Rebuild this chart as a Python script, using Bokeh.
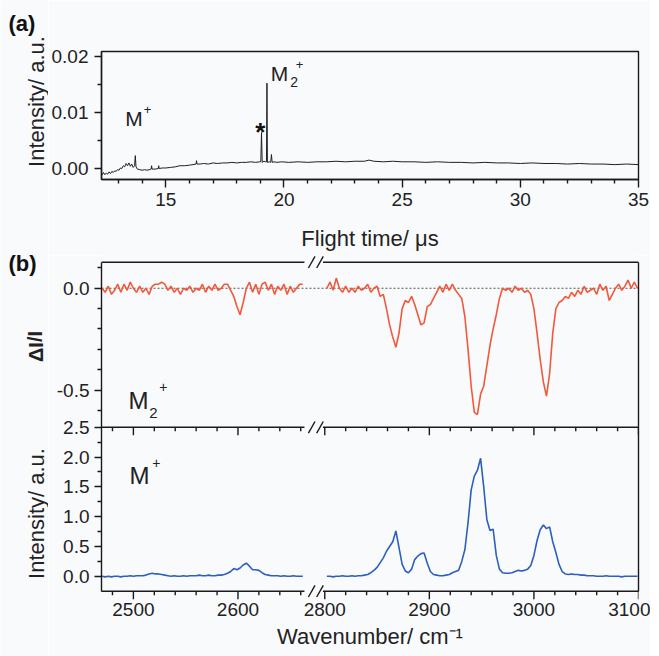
from bokeh.plotting import figure
from bokeh.models import Range1d, FixedTicker, CustomJSTickFormatter, Label, LinearAxis
from bokeh.layouts import column, row
from bokeh.embed import file_html
from bokeh.resources import INLINE

FONT = "Liberation Sans"
BG = "#f9fafc"
INK = "#1a1a1a"
TXT = "#222222"

# ---------------- data: (a) time-of-flight mass spectrum ----------------
TOF_TIME = [
    12.30, 12.36, 12.42, 12.48, 12.54, 12.60, 12.66, 12.72, 12.78, 12.84,
    12.90, 12.96, 13.02, 13.08, 13.14, 13.20, 13.26, 13.32, 13.38, 13.44,
    13.50, 13.56, 13.62, 13.68, 13.71, 13.74, 13.80, 13.90, 14.00, 14.10,
    14.20, 14.30, 14.38, 14.40, 14.42, 14.55, 14.68, 14.70, 14.72, 14.85,
    15.00, 15.20, 15.40, 15.60, 15.80, 16.00, 16.15, 16.28, 16.30, 16.32,
    16.45, 16.60, 16.80, 17.00, 17.20, 17.40, 17.60, 17.80, 18.00, 18.20,
    18.40, 18.60, 18.80, 18.98, 19.02, 19.05, 19.08, 19.15, 19.22, 19.26,
    19.28, 19.30, 19.38, 19.44, 19.47, 19.50, 19.58, 19.70, 19.90, 20.20,
    20.60, 21.00, 21.40, 21.80, 22.20, 22.60, 23.00, 23.40, 23.60, 23.80,
    24.20, 24.60, 25.00, 25.50, 26.00, 26.50, 27.00, 27.50, 28.00, 28.50,
    29.00, 29.50, 30.00, 30.50, 31.00, 31.50, 32.00, 32.50, 33.00, 33.50,
    34.00, 34.50, 35.00,
]
TOF_INTENSITY = [
    -0.0012, -0.0007, -0.0011, -0.0008, -0.0010, -0.0006, -0.0009, -0.0005, -0.0007, -0.0004,
    -0.0005, -0.0002, -0.0003, 0.0001, 0.0000, 0.0005, 0.0003, 0.0009, 0.0005, 0.0010,
    0.0004, 0.0008, 0.0002, 0.0005, 0.0023, 0.0003, -0.0001, -0.0002, -0.0003, -0.0002,
    -0.0003, -0.0002, -0.0001, 0.0005, -0.0001, -0.0001, 0.0000, 0.0005, 0.0000, 0.0001,
    0.0001, 0.0002, 0.0003, 0.0005, 0.0005, 0.0006, 0.0007, 0.0008, 0.0014, 0.0008,
    0.0008, 0.0009, 0.0008, 0.0010, 0.0009, 0.0010, 0.0010, 0.0011, 0.0010, 0.0011,
    0.0011, 0.0012, 0.0011, 0.0012, 0.0012, 0.0064, 0.0011, 0.0013, 0.0012, 0.0012,
    0.0152, 0.0011, 0.0012, 0.0011, 0.0025, 0.0011, 0.0012, 0.0011, 0.0012, 0.0011,
    0.0012, 0.0011, 0.0012, 0.0012, 0.0013, 0.0012, 0.0013, 0.0013, 0.0015, 0.0013,
    0.0012, 0.0013, 0.0012, 0.0012, 0.0011, 0.0012, 0.0011, 0.0011, 0.0010, 0.0011,
    0.0010, 0.0010, 0.0009, 0.0010, 0.0009, 0.0009, 0.0008, 0.0009, 0.0008, 0.0008,
    0.0007, 0.0008, 0.0007,
]
TOF_XTICKS = [15, 20, 25, 30, 35]
TOF_XMINOR = [13, 14, 16, 17, 18, 19, 21, 22, 23, 24, 26, 27, 28, 29, 31, 32, 33, 34]
TOF_YTICKS = [0.0, 0.01, 0.02]
TOF_YMINOR = [0.005, 0.015]

# ---------------- data: (b) IR spectra ----------------
WN_LEFT = list(range(2470, 2663, 3))      # 2470 ... 2662 cm-1
WN_RIGHT = list(range(2802, 3100, 3))     # 2802 ... 3099 cm-1

DIFF_LEFT = [
    0.00, -0.02, 0.01, -0.03, -0.01, 0.02, -0.02, 0.02, -0.01, 0.03,
    0.00, -0.02, 0.01, -0.02, 0.00, -0.03, 0.01, 0.02, 0.02, 0.03,
    0.02, -0.01, 0.01, -0.02, 0.00, -0.03, 0.00, -0.01, 0.01, -0.02,
    0.00, -0.01, 0.02, -0.02, 0.01, -0.01, 0.02, -0.01, 0.00, 0.02,
    0.02, -0.01, -0.04, -0.09, -0.13, -0.07, 0.00, 0.03, -0.02, 0.02,
    -0.03, 0.02, 0.03, -0.01, 0.02, -0.03, 0.01, -0.01, 0.02, -0.03,
    0.01, -0.02, 0.00, 0.02, 0.02,
]
DIFF_RIGHT = [
    0.00, 0.03, -0.01, 0.05, 0.00, -0.02, 0.01, -0.02, 0.00, -0.02,
    0.01, -0.01, 0.00, 0.02, -0.02, 0.00, 0.01, -0.04, -0.03, -0.10,
    -0.18, -0.24, -0.29, -0.22, -0.10, -0.06, -0.07, -0.04, -0.08, -0.13,
    -0.18, -0.17, -0.09, -0.08, -0.05, -0.02, 0.01, -0.02, 0.02, -0.01,
    0.02, -0.01, -0.03, -0.05, -0.14, -0.30, -0.48, -0.61, -0.62, -0.52,
    -0.48, -0.38, -0.28, -0.20, -0.13, -0.05, 0.00, -0.01, 0.00, -0.02,
    0.01, -0.01, 0.00, -0.02, -0.01, -0.03, -0.10, -0.22, -0.35, -0.46,
    -0.53, -0.42, -0.22, -0.10, -0.07, -0.06, -0.04, -0.05, -0.02, -0.04,
    -0.01, -0.03, 0.01, -0.02, -0.01, 0.00, -0.03, 0.02, -0.01, 0.01,
    -0.06, -0.03, 0.00, 0.02, -0.01, 0.01, 0.04, 0.00, 0.03, 0.00,
]
INT_LEFT = [
    0.00, -0.01, 0.00, -0.01, 0.00, 0.00, -0.01, 0.00, 0.00, 0.01,
    0.00, 0.01, 0.01, 0.01, 0.02, 0.04, 0.05, 0.04, 0.04, 0.03,
    0.02, 0.01, 0.00, 0.01, 0.00, 0.00, 0.01, 0.00, 0.01, 0.01,
    0.01, 0.02, 0.01, 0.01, 0.02, 0.01, 0.01, 0.02, 0.02, 0.03,
    0.05, 0.08, 0.13, 0.11, 0.14, 0.19, 0.22, 0.17, 0.11, 0.11,
    0.10, 0.06, 0.03, 0.02, 0.01, 0.01, 0.01, 0.00, 0.01, 0.00,
    0.00, 0.01, 0.00, 0.00, 0.00,
]
INT_RIGHT = [
    0.00, 0.00, -0.01, 0.00, 0.00, 0.01, 0.00, 0.00, 0.01, 0.00,
    0.01, 0.01, 0.02, 0.03, 0.06, 0.10, 0.15, 0.23, 0.31, 0.42,
    0.50, 0.58, 0.76, 0.48, 0.20, 0.09, 0.06, 0.12, 0.28, 0.34,
    0.38, 0.39, 0.22, 0.08, 0.03, 0.02, 0.01, 0.01, 0.02, 0.03,
    0.06, 0.08, 0.10, 0.25, 0.45, 0.90, 1.45, 1.68, 1.78, 1.98,
    1.50, 0.95, 0.77, 0.79, 0.35, 0.12, 0.06, 0.05, 0.05, 0.06,
    0.08, 0.10, 0.09, 0.10, 0.12, 0.18, 0.35, 0.60, 0.78, 0.86,
    0.80, 0.83, 0.58, 0.40, 0.20, 0.08, 0.04, 0.03, 0.04, 0.03,
    0.03, 0.02, 0.02, 0.01, 0.01, 0.01, 0.00, 0.00, 0.00, 0.01,
    0.00, 0.00, 0.00, 0.00, -0.01, 0.00, 0.00, 0.00, 0.00, 0.00,
]
WN_MAJOR_LEFT = [2500, 2600]
WN_MINOR_LEFT = [2480, 2520, 2540, 2560, 2580, 2620, 2640, 2660]
WN_MAJOR_RIGHT = [2800, 2900, 3000, 3100]
WN_MINOR_RIGHT = [2820, 2840, 2860, 2880, 2920, 2940, 2960, 2980,
                  3020, 3040, 3060, 3080]
INT_YTICKS = [0.0, 0.5, 1.0, 1.5, 2.0, 2.5]
INT_YMINOR = [0.25, 0.75, 1.25, 1.75, 2.25]
DIFF_YTICKS = [0.0, -0.5]
DIFF_YMINOR = [0.1, -0.1, -0.2, -0.3, -0.4, -0.6]

# ---------------- geometry of the broken axis / stacked panels ----------
BREAK_SHIFT = 117                 # offset of the right-hand wavenumber segment
X_LO, X_HI = 2469.5, 3100 - BREAK_SHIFT
INT_LO, BOUNDARY, MAIN_HI = -0.25, 2.5, 5.27
DIFF_VIS_LO, DIFF_HI = -0.683, 0.128
SLOPE = (DIFF_HI - DIFF_VIS_LO) / (MAIN_HI - BOUNDARY)
DIFF_LO = DIFF_VIS_LO - (BOUNDARY - INT_LO) * SLOPE
PXX = 539.0 / (X_HI - X_LO)       # px per cm-1 in panel (b)
PXY = 329.0 / (MAIN_HI - INT_LO)  # px per unit (main y) in panel (b)
PAD_T, PAD_B = 6.7, 10.3          # frame margin above/below the drawn box (px)
GAP_L = X_LO + 203 / PXX
GAP_R = X_LO + 223 / PXX
SLASH_X = [X_LO + 211 / PXX, X_LO + 219.3 / PXX]
SLASH_DX, SLASH_DY = 3.3 / PXX, 5.8 / PXY
MAJ_LEN, MIN_LEN = 8 / PXY, 4 / PXY


def to_main(v):
    return BOUNDARY + (v - DIFF_VIS_LO) / SLOPE


def style_axis(ax):
    ax.axis_line_width = 1.4
    ax.axis_line_color = INK
    ax.major_tick_line_width = 1.4
    ax.minor_tick_line_width = 1.4
    ax.major_tick_line_color = INK
    ax.minor_tick_line_color = INK
    ax.major_tick_in = 0
    ax.minor_tick_in = 0
    ax.major_tick_out = 8
    ax.minor_tick_out = 4
    ax.major_label_text_font = FONT
    ax.major_label_text_font_size = "19px"
    ax.major_label_text_color = TXT
    ax.axis_label_text_font = FONT
    ax.axis_label_text_font_size = "22px"
    ax.axis_label_text_font_style = "normal"
    ax.axis_label_text_color = TXT


def base_fig(w, h, xr, yr, left, right, top, bottom):
    p = figure(width=w, height=h, x_range=xr, y_range=yr,
               output_backend="svg", toolbar_location=None,
               min_border_left=left, min_border_right=right,
               min_border_top=top, min_border_bottom=bottom)
    p.background_fill_color = BG
    p.border_fill_color = BG
    p.xgrid.grid_line_color = None
    p.ygrid.grid_line_color = None
    return p


def txt(x, y, s, size, **kw):
    opts = dict(text_font=FONT, text_color=TXT, text_baseline="alphabetic")
    opts.update(kw)
    return Label(x=x, y=y, text=s, text_font_size=size, **opts)


HA, HB, WL = 255, 401, 48
H_ALL = HA + HB

# ============ left strip: panel letters and y-axis titles ============
lt = figure(width=WL, height=H_ALL, x_range=Range1d(0, WL), y_range=Range1d(0, H_ALL),
            output_backend="svg", toolbar_location=None,
            x_axis_location=None, y_axis_location=None, min_border=0)
lt.background_fill_color = BG
lt.border_fill_color = BG
lt.outline_line_color = None
lt.grid.visible = False
lt.add_layout(txt(8, H_ALL - 22.5, "(a)", "22px", text_font_style="bold",
                  text_baseline="middle", text_color="#111111"))
lt.add_layout(txt(35.6, H_ALL - 101, "Intensity/ a.u.", "22px", angle=1.5708,
                  text_align="center", text_baseline="middle"))
lt.add_layout(txt(8, H_ALL - 262.5, "(b)", "22px", text_font_style="bold",
                  text_baseline="middle", text_color="#111111"))
lt.add_layout(txt(35, H_ALL - 346, "\u0394I/I", "20px", text_font_style="bold",
                  angle=1.5708, text_align="center", text_baseline="middle"))
lt.add_layout(txt(36, H_ALL - 513, "Intensity/ a.u.", "22px", angle=1.5708,
                  text_align="center", text_baseline="middle"))

# ======================= panel (a) =======================
pa = base_fig(602, HA, Range1d(12.28, 35), Range1d(-0.00195, 0.02083), 51, 12, 51, 76)
pa.outline_line_color = INK
pa.outline_line_width = 1.4
pa.line(TOF_TIME, TOF_INTENSITY, line_color="#202020", line_width=1)
pa.xaxis.ticker = FixedTicker(ticks=TOF_XTICKS, minor_ticks=TOF_XMINOR)
pa.yaxis.ticker = FixedTicker(ticks=TOF_YTICKS, minor_ticks=TOF_YMINOR)
pa.yaxis.formatter = CustomJSTickFormatter(code="return tick.toFixed(2);")
for ax in pa.xaxis + pa.yaxis:
    style_axis(ax)
pa.yaxis.major_tick_out = 7
pa.yaxis.major_label_standoff = 6
pa.xaxis.major_label_standoff = 5
pa.xaxis.axis_label = "Flight time/ \u03bcs"
pa.xaxis.axis_label_standoff = 17

pa.add_layout(txt(13.29, 0.00893, "M", "21px"))
pa.add_layout(txt(14.07, 0.01053, "+", "13px"))
pa.add_layout(txt(19.00, 0.00652, "*", "26px", text_font_style="bold",
                  text_align="center", text_color="#111111"))
pa.add_layout(txt(19.44, 0.01693, "M", "21px"))
pa.add_layout(txt(20.27, 0.01533, "2", "14px"))
pa.add_layout(txt(20.50, 0.01860, "+", "13px"))

# ======================= panel (b) =======================
pb = base_fig(602, HB, Range1d(X_LO, X_HI),
              Range1d(INT_LO - PAD_B / PXY, MAIN_HI + PAD_T / PXY),
              51, 12, 0, 55)
pb.outline_line_color = None
pb.extra_y_ranges = {"diff": Range1d(DIFF_LO - PAD_B / PXY * SLOPE,
                                     DIFF_HI + PAD_T / PXY * SLOPE)}

u_right = [w - BREAK_SHIFT for w in WN_RIGHT]
RED = "#f2583a"
BLUE = "#2d5fbd"
pb.segment(x0=[X_LO], y0=[0], x1=[X_HI], y1=[0], y_range_name="diff",
           line_color="#555555", line_dash="2 2", line_width=1)
pb.line(WN_LEFT, DIFF_LEFT, y_range_name="diff", line_color=RED, line_width=1.6)
pb.line(u_right, DIFF_RIGHT, y_range_name="diff", line_color=RED, line_width=1.6)
pb.line(WN_LEFT, INT_LEFT, line_color=BLUE, line_width=1.6)
pb.line(u_right, INT_RIGHT, line_color=BLUE, line_width=1.6)

major_u = WN_MAJOR_LEFT + [w - BREAK_SHIFT for w in WN_MAJOR_RIGHT]
minor_u = WN_MINOR_LEFT + [w - BREAK_SHIFT for w in WN_MINOR_RIGHT]

# horizontal box lines, broken at the axis break
fx0, fy0, fx1, fy1 = [], [], [], []
for yb in (MAIN_HI, BOUNDARY, INT_LO):
    fx0 += [X_LO, GAP_R]; fx1 += [GAP_L, X_HI]; fy0 += [yb, yb]; fy1 += [yb, yb]
pb.segment(x0=fx0, y0=fy0, x1=fx1, y1=fy1, line_color=INK, line_width=1.4,
           line_cap="square")
# ticks on the bottom axis and on the boundary between the two spectra
tx0, ty0, ty1 = [], [], []
for yb in (INT_LO, BOUNDARY):
    for u in major_u:
        tx0.append(u); ty0.append(yb); ty1.append(yb - MAJ_LEN)
    for u in minor_u:
        tx0.append(u); ty0.append(yb); ty1.append(yb - MIN_LEN)
pb.segment(x0=tx0, y0=ty0, x1=tx0, y1=ty1, line_color=INK, line_width=1.4)
# "//" axis-break marks
sx0, sy0, sx1, sy1 = [], [], [], []
for yb in (MAIN_HI, BOUNDARY, INT_LO):
    for xc in SLASH_X:
        sx0.append(xc - SLASH_DX); sy0.append(yb - SLASH_DY)
        sx1.append(xc + SLASH_DX); sy1.append(yb + SLASH_DY)
pb.segment(x0=sx0, y0=sy0, x1=sx1, y1=sy1, line_color=INK, line_width=1.4)

pb.xaxis.ticker = FixedTicker(ticks=major_u, minor_ticks=[])
pb.xaxis.formatter = CustomJSTickFormatter(
    args=dict(shift=BREAK_SHIFT, cut=2670),
    code="return (tick > cut ? tick + shift : tick).toFixed(0);")
pb.yaxis.ticker = FixedTicker(
    ticks=INT_YTICKS + [to_main(v) for v in DIFF_YTICKS],
    minor_ticks=INT_YMINOR + [to_main(v) for v in DIFF_YMINOR])
pb.yaxis.formatter = CustomJSTickFormatter(
    args=dict(b=BOUNDARY, lo=DIFF_VIS_LO, s=SLOPE),
    code="""
        var v = tick;
        if (tick > b + 0.05) { v = Math.round((lo + (tick - b) * s) * 10) / 10; }
        return v.toFixed(1);
    """)
for ax in pb.xaxis + pb.yaxis:
    style_axis(ax)
pb.xaxis.axis_line_color = None
pb.xaxis.major_tick_line_color = None
pb.xaxis.minor_tick_line_color = None
pb.xaxis.major_tick_out = 0
pb.xaxis.minor_tick_out = 0
pb.xaxis.major_label_standoff = 1
pb.xaxis.axis_label = "Wavenumber/ cm\u207b\u00b9"
pb.xaxis.axis_label_standoff = 5
pb.yaxis.bounds = (INT_LO, MAIN_HI)
pb.yaxis.major_tick_out = 7
pb.yaxis.minor_tick_out = 4
pb.yaxis.major_label_standoff = 5

right_edge = LinearAxis(ticker=FixedTicker(ticks=[]), bounds=(INT_LO, MAIN_HI),
                        axis_line_color=INK, axis_line_width=1.4,
                        major_tick_out=0, minor_tick_out=0,
                        major_label_text_font_size="0px", major_label_standoff=0)
pb.add_layout(right_edge, "right")

pb.add_layout(txt(2495.2, 2.95, "M", "24px"))
pb.add_layout(txt(2515.2, 2.748, "2", "15px"))
pb.add_layout(txt(2524.7, 3.173, "+", "14px"))
pb.add_layout(txt(2496.2, 1.691, "M", "24px"))
pb.add_layout(txt(2518.1, 1.898, "+", "14px"))

layout = row(lt, column(pa, pb))
html = file_html(layout, INLINE, "IR spectra")
html = html.replace("<body>", '<body style="background:%s">' % BG, 1)
open("out.html", "w").write(html)
